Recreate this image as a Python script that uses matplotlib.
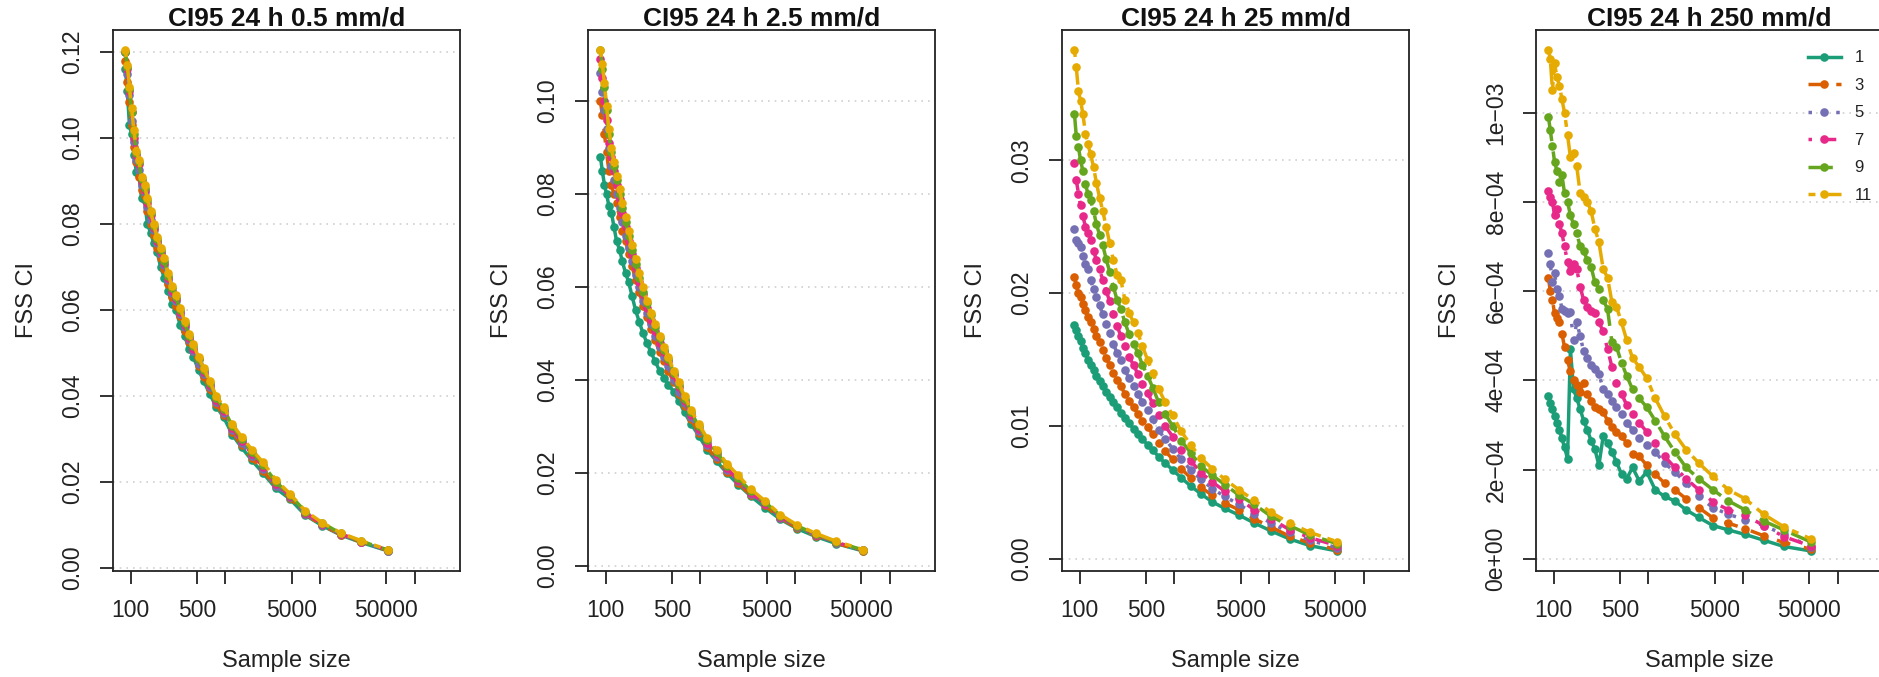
import matplotlib
matplotlib.use("Agg")
import matplotlib.pyplot as plt
from matplotlib.ticker import FixedLocator, FixedFormatter
from matplotlib.lines import Line2D

plt.rcParams['font.family'] = ['Liberation Sans', 'DejaVu Sans']

# ---------------- data ----------------
sample_size = [88, 92, 97, 102, 108, 115, 122, 130, 140, 150, 162, 175, 190, 207, 226,
               248, 272, 300, 333, 370, 412, 460, 520, 590, 680, 800, 960, 1180, 1480,
               1900, 2500, 3400, 4800, 7000, 10500, 16500, 27000, 52000]

neighbourhoods = ["1", "3", "5", "7", "9", "11"]
titles = ["CI95 24 h 0.5 mm/d", "CI95 24 h 2.5 mm/d", "CI95 24 h 25 mm/d", "CI95 24 h 250 mm/d"]

# panel 1: 0.5 mm/d (values in units of 1e-3)
p05_unit = 1e-3
p05_n1 = [116, 111, 103, 101, 96, 92, 91.5, 86, 85.5, 80, 78, 75.5, 73.5, 70, 67.5, 64.5, 61.5, 60, 56.5, 54,
          51, 49, 46, 43.5, 40.5, 37.5, 35, 31, 28, 25, 22, 18.5, 16, 12.2, 9.8, 7.6, 5.9, 3.9]
p05_n3 = [118, 113, 108.5, 103, 98, 94.5, 91, 88, 86.5, 83, 80, 77.5, 74.5, 72, 69.5, 66, 63, 61, 58.5, 55,
          52.5, 50.5, 47, 44.5, 41.5, 38, 35.5, 31.5, 28.5, 25.5, 22.5, 19, 16.3, 12.4, 9.9, 7.7, 6, 4]
p05_n5 = [120, 115, 110, 104, 99, 95, 92.5, 89, 87.5, 84, 81, 78.5, 75.5, 73, 70.5, 67, 64, 62, 59, 56,
          53, 50.5, 47.5, 45, 42, 38.5, 36, 32, 29, 26, 23, 19, 16.5, 12.5, 10, 7.8, 6, 4]
p05_n7 = [120, 116, 111, 106, 100, 96, 94, 90, 88, 85, 82, 79, 76, 73.5, 71, 67.5, 64.5, 62.5, 59.5, 56.5,
          53.5, 51, 48.5, 45.5, 42.5, 39, 36.5, 32.5, 29.5, 26.5, 23.5, 19.5, 16.8, 12.8, 10.2, 7.9, 6.1, 4.1]
p05_n9 = [120, 116.5, 111.5, 106, 101, 96.5, 94.5, 90.5, 88.5, 85.5, 82.5, 79.5, 76.5, 74, 71.5, 68, 65, 63, 60, 57,
          54, 51.5, 48.5, 46, 43, 39.5, 37, 33, 30, 27, 24, 20, 17, 13, 10.4, 8, 6.2, 4.1]
p05_n11 = [120.5, 117, 112, 107, 102, 97, 95, 91, 89, 86, 83, 80, 77, 74.5, 72, 68.5, 65.5, 63.5, 60.5, 57.5,
           54.5, 52, 49, 46.5, 43.5, 40, 37.5, 33.5, 30.5, 27.5, 24.5, 20.5, 17.2, 13.2, 10.5, 8.1, 6.3, 4.2]

# panel 2: 2.5 mm/d (units of 1e-3)
p25_unit = 1e-3
p25_n1 = [88, 85, 82, 80, 77.5, 76, 73, 70, 68, 65.5, 63, 61, 58, 55, 52.5, 50, 48, 46, 44, 42,
          40.5, 39, 37.5, 35.5, 33, 30.5, 28, 25, 22.5, 20, 17.5, 15, 12.5, 10, 8, 6.3, 4.8, 3.2]
p25_n3 = [100, 97, 93, 89, 85, 82, 80, 78, 75, 72, 70, 67, 64.5, 61.5, 59, 56, 53.5, 51, 48.5, 46,
          44, 42, 39.5, 37, 34.5, 31.5, 28.5, 25.5, 23, 20.3, 17.8, 15.2, 13, 10.2, 8.2, 6.5, 4.9, 3.2]
p25_n5 = [106, 102, 98, 94, 90, 86, 83, 80, 77, 74, 71, 68.5, 65.5, 62.5, 60, 57, 54.5, 52, 49.5, 47,
          45, 43, 40, 37.5, 35, 32, 29, 26, 23.5, 20.7, 18.2, 15.5, 13.2, 10.4, 8.4, 6.6, 5, 3.3]
p25_n7 = [109, 105, 100, 96, 91, 88, 85, 82, 79, 76, 73, 70, 67, 64, 61, 58.5, 55.5, 53, 50.5, 48,
          46, 44, 41, 38.5, 35.5, 32.5, 29.5, 26.5, 24, 21, 18.5, 15.7, 13.4, 10.6, 8.5, 6.7, 5.1, 3.3]
p25_n9 = [111, 107, 103, 98, 93, 89, 86, 83, 80, 77, 74, 71, 68, 65, 62, 59, 56.5, 54, 51.5, 49,
          46.5, 44.5, 41.5, 39, 36, 33, 30, 27, 24.5, 21.5, 19, 16, 13.7, 10.8, 8.6, 6.8, 5.2, 3.4]
p25_n11 = [111, 108, 104, 99, 94, 90, 87, 84, 81, 78, 75, 72, 69, 66, 63, 60, 57, 54.5, 52, 49.5,
           47, 45, 42, 39.5, 36.5, 33.5, 30.5, 27.5, 25, 22, 19.5, 16.5, 14, 11, 8.8, 7, 5.3, 3.5]

# panel 3: 25 mm/d (units of 1e-4)
p250_unit = 1e-4
p250_n1 = [176, 172, 168, 164, 159, 155, 150, 146, 142, 138, 134, 130, 126, 122, 118, 114, 110, 106, 102, 98,
           94, 90, 86, 82, 77, 72, 67, 61, 55, 49, 43, 38, 33, 27, 21, 15, 10, 6]
p250_n3 = [212, 206, 200, 197, 192, 187, 182, 178, 173, 168, 163, 157, 151, 146, 140, 135, 130, 124, 119, 114,
           109, 104, 99, 94, 87, 81, 75, 68, 61, 54, 48, 42, 37, 30, 24, 17, 12, 7]
p250_n5 = [248, 240, 238, 235, 228, 222, 218, 210, 203, 197, 191, 184, 177, 170, 162, 155, 150, 142, 136, 130,
           124, 118, 112, 105, 97, 90, 83, 75, 67, 60, 53, 47, 41, 34, 27, 20, 14, 8.5]
p250_n7 = [298, 285, 275, 266, 258, 250, 245, 240, 232, 225, 218, 210, 202, 194, 184, 175, 168, 160, 152, 146,
           139, 132, 125, 117, 108, 100, 92, 82, 74, 65, 58, 51, 45, 37, 30, 22, 16, 10]
p250_n9 = [335, 318, 310, 300, 292, 282, 275, 270, 262, 252, 244, 236, 226, 216, 205, 195, 188, 178, 169, 162,
           155, 146, 138, 129, 118, 109, 100, 89, 80, 70, 63, 56, 48, 41, 32, 25, 18, 11.5]
p250_n11 = [383, 370, 352, 345, 335, 320, 312, 305, 295, 283, 272, 262, 250, 238, 225, 214, 210, 195, 185, 178,
            170, 160, 150, 140, 128, 118, 108, 96, 86, 76, 68, 60, 52, 44, 35, 27, 20, 13]

# panel 4: 250 mm/d (units of 1e-5)
p2500_unit = 1e-5
p2500_n1 = [36.5, 35, 33.5, 32, 30.5, 29, 27, 25, 22.5, 47, 38, 36, 33.6, 31, 29, 26.5, 24.6, 21, 27.5, 26,
            24, 21.7, 19, 18, 20.5, 17.5, 19.5, 15.5, 14, 13, 11, 9.3, 7.5, 6.5, 5.5, 4.2, 2.8, 1.8]
p2500_n3 = [63, 60, 58, 55, 54, 53, 50.5, 47.5, 44.5, 42, 40, 39, 37.5, 39.5, 37, 35.5, 34, 33.5, 33, 31,
            29.5, 28.5, 27.5, 26, 23.5, 23, 21, 19, 17, 15.5, 13.5, 11.5, 9.2, 8, 6.8, 5.2, 3.7, 2.2]
p2500_n5 = [68.5, 66, 62, 64, 60.5, 59, 56, 55.5, 55, 55.3, 49, 53, 50, 46.5, 45, 43.5, 42.5, 41.5, 38, 37,
            35.5, 34, 32.5, 30.5, 29, 27, 25.5, 24, 21.5, 19.5, 17, 14, 11.5, 10, 8.8, 7.5, 5.5, 2.7]
p2500_n7 = [82.5, 81, 80, 77, 78.5, 75, 73, 70, 66.5, 64.5, 66, 65, 61, 58, 56.5, 55.5, 55, 53, 51, 47,
            43, 39.5, 37, 34.5, 32.5, 30.5, 28.5, 26, 23, 20.5, 18, 15.5, 12.8, 11, 9.8, 7.5, 5, 2.9]
p2500_n9 = [99, 96, 92.5, 89, 87, 84.5, 86, 82, 80, 77, 75, 73, 70, 69, 67, 65.5, 62, 60.5, 58, 56,
            48.5, 47.5, 44, 41, 38, 36, 34, 31, 27.5, 24, 20.5, 18, 15.5, 13, 11, 8.5, 6.5, 3.8]
p2500_n11 = [114, 112, 105, 111, 108, 106, 103, 100, 95, 90, 91, 88, 82, 81, 80, 78, 74, 71, 65, 63,
             57.5, 56.5, 53, 49, 45, 43, 40.5, 36, 32, 28, 24.5, 21.5, 18.5, 15.5, 13.5, 10, 7.2, 4.5]

panels = [
    (p05_unit, [p05_n1, p05_n3, p05_n5, p05_n7, p05_n9, p05_n11]),
    (p25_unit, [p25_n1, p25_n3, p25_n5, p25_n7, p25_n9, p25_n11]),
    (p250_unit, [p250_n1, p250_n3, p250_n5, p250_n7, p250_n9, p250_n11]),
    (p2500_unit, [p2500_n1, p2500_n3, p2500_n5, p2500_n7, p2500_n9, p2500_n11]),
]

y_ticks = [
    [0.0, 0.02, 0.04, 0.06, 0.08, 0.10, 0.12],
    [0.0, 0.02, 0.04, 0.06, 0.08, 0.10],
    [0.0, 0.01, 0.02, 0.03],
    [0.0, 2e-4, 4e-4, 6e-4, 8e-4, 1e-3],
]
y_ticklabels = [
    ["0.00", "0.02", "0.04", "0.06", "0.08", "0.10", "0.12"],
    ["0.00", "0.02", "0.04", "0.06", "0.08", "0.10"],
    ["0.00", "0.01", "0.02", "0.03"],
    ["0e+00", "2e\u221204", "4e\u221204", "6e\u221204", "8e\u221204", "1e\u221203"],
]
x_ticks = [100, 500, 1000, 5000, 10000, 50000, 100000]
x_ticklabels = ["100", "500", "", "5000", "", "50000", ""]

# ---------------- styles ----------------
colors = ["#1B9E77", "#D95F02", "#7570B3", "#E7298A", "#66A61E", "#E6AB02"]
styles = ["-", (0, (4, 4)), (0, (1, 3)), (0, (1, 3, 4, 3)), (0, (7, 3)), (0, (2, 2, 6, 2))]

W, H = 1879, 677
fig = plt.figure(figsize=(W / 100, H / 100), dpi=100)

lefts = [113, 588, 1062, 1536]
ax_w, ax_top, ax_bot = 347, 30, 571

for i, (unit, series) in enumerate(panels):
    ax = fig.add_axes([lefts[i] / W, (H - ax_bot) / H, ax_w / W, (ax_bot - ax_top) / H])
    ax.set_xscale("log")
    for j, vals in enumerate(series):
        yv = [v * unit for v in vals]
        ax.plot(sample_size, yv, color=colors[j], linestyle=styles[j], lw=2.5,
                marker="o", ms=6.2, mec=colors[j], mew=0, zorder=3 + j)
    ax.margins(y=0.04)
    ax.set_xlim(65, 3.0e5)
    ax.yaxis.set_major_locator(FixedLocator(y_ticks[i]))
    ax.yaxis.set_major_formatter(FixedFormatter(y_ticklabels[i]))
    ax.xaxis.set_major_locator(FixedLocator(x_ticks))
    ax.xaxis.set_major_formatter(FixedFormatter(x_ticklabels))
    ax.xaxis.set_minor_locator(FixedLocator([]))
    for yt in y_ticks[i]:
        ax.axhline(yt, color="#CFCFCF", lw=1.2, ls=(0, (1, 3)), zorder=1)
    ax.tick_params(axis="both", direction="out", length=9.5, width=1.3, labelsize=16.5,
                   pad=11, color="#222222", labelcolor="#222222")
    for lab in ax.get_yticklabels():
        lab.set_rotation(90)
        lab.set_va("center")
    for s in ax.spines.values():
        s.set_linewidth(1.3)
        s.set_color("#222222")
    ax.set_title(titles[i], fontsize=19, fontweight="bold", pad=0.5, color="#111111")
    ax.set_xlabel("Sample size", fontsize=17, labelpad=20, color="#222222")
    ax.set_ylabel("FSS CI", fontsize=17, labelpad=17, color="#222222")

    if i == 3:
        handles = [Line2D([0], [0], color=colors[j], linestyle=styles[j], lw=2.5,
                          marker="o", ms=6.2, mew=0) for j in range(6)]
        fig.legend(handles, neighbourhoods, loc="upper right",
                   bbox_to_anchor=(1880 / W, (H - 42) / H), frameon=False,
                   fontsize=12, handlelength=2.0, handletextpad=0.8,
                   labelspacing=0.75, borderpad=0, labelcolor="#222222")

fig.savefig("out.png", dpi=100)
